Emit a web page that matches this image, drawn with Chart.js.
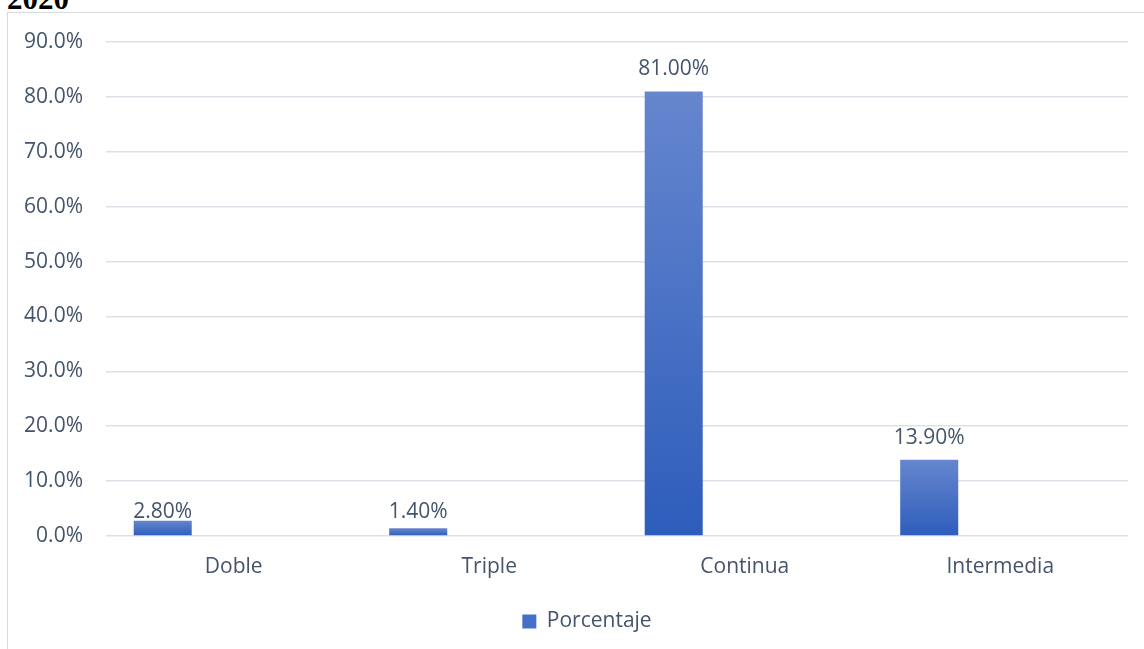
<!DOCTYPE html>
<html>
<head>
<meta charset="utf-8">
<script src="https://cdn.jsdelivr.net/npm/chart.js@4/dist/chart.umd.min.js"></script>
<style>
  html, body { margin: 0; padding: 0; background: #fff; overflow: hidden; }
  #wrap { position: relative; width: 1144px; height: 649px; overflow: hidden; }
  #frame { position: absolute; left: 7px; top: 12px; width: 1400px; height: 900px; border: 1px solid #d6dae1; }
  #year { position: absolute; left: 7px; top: -17px; font: bold 31px/1 "Liberation Serif", serif; color: #000; }
  #myChart { position: absolute; left: 0; top: 0; }
</style>
</head>
<body>
<div id="wrap">
  <div id="frame"></div>
  <div id="year">2020</div>
  <canvas id="myChart" width="1174" height="649"></canvas>
</div>
<script>
var categories = ['Doble', 'Triple', 'Continua', 'Intermedia'];
var porcentaje = [2.8, 1.4, 81.0, 13.9];
var valueLabels = ['2.80%', '1.40%', '81.00%', '13.90%'];
var empty = [null, null, null, null];

var textColor = '#44546a';
var gridColor = '#dde1e7';
var fontFamily = '"Open Sans", "Noto Sans", sans-serif';

// vertical gradient per bar, light on top and darker at the base
function barFill(ctx) {
  var chart = ctx.chart;
  if (!chart.chartArea || ctx.type !== 'data') return '#4a74c9';
  var y = chart.scales.y;
  var top = y.getPixelForValue(ctx.raw);
  var base = y.getPixelForValue(0);
  var g = chart.ctx.createLinearGradient(0, top, 0, base);
  g.addColorStop(0, '#6686ce');
  g.addColorStop(1, '#2d5dbb');
  return g;
}

// value labels above each bar; very short bars share one line near the axis
var barLabels = {
  id: 'barLabels',
  afterDatasetsDraw: function (chart) {
    var ctx = chart.ctx;
    var meta = chart.getDatasetMeta(0);
    var base = chart.scales.y.getPixelForValue(0);
    ctx.save();
    ctx.font = '21px ' + fontFamily;
    ctx.fillStyle = textColor;
    ctx.textAlign = 'center';
    ctx.textBaseline = 'alphabetic';
    meta.data.forEach(function (bar, i) {
      var y = (base - bar.y) < 30 ? base - 18 : bar.y - 16;
      ctx.fillText(valueLabels[i], bar.x, y);
    });
    ctx.restore();
  }
};

var config = {
  type: 'bar',
  data: {
    labels: categories,
    datasets: [
      { label: 'Porcentaje', data: porcentaje, backgroundColor: barFill },
      { label: '', data: empty },
      { label: '', data: empty }
    ]
  },
  options: {
    responsive: false,
    animation: false,
    categoryPercentage: 0.834,
    barPercentage: 0.817,
    layout: { padding: { top: 42, right: 0, bottom: 7, left: 0 } },
    plugins: {
      tooltip: { enabled: false },
      legend: {
        position: 'bottom',
        labels: {
          color: textColor,
          font: { family: fontFamily, size: 21 },
          boxWidth: 14,
          boxHeight: 14,
          padding: 10,
          generateLabels: function (chart) {
            return [{ text: 'Porcentaje', fillStyle: '#4470c8', strokeStyle: '#4470c8', lineWidth: 0, datasetIndex: 0, fontColor: textColor }];
          }
        }
      }
    },
    scales: {
      x: {
        grid: { display: false, drawTicks: false },
        border: { display: false },
        ticks: { color: textColor, font: { family: fontFamily, size: 21 }, padding: 18 },
        afterFit: function (scale) { scale.height = 65; }
      },
      y: {
        min: 0,
        max: 90,
        grid: { color: gridColor, lineWidth: 1.5, drawTicks: false },
        border: { display: false },
        ticks: {
          stepSize: 10,
          color: textColor,
          font: { family: fontFamily, size: 21 },
          padding: 23,
          callback: function (v) { return v.toFixed(1) + '%'; }
        },
        afterFit: function (scale) { scale.width = 106; }
      },
      // empty right-hand margin of the plot
      y2: {
        position: 'right',
        grid: { display: false, drawTicks: false },
        border: { display: false },
        ticks: { display: false },
        afterFit: function (scale) { scale.width = 46; }
      }
    }
  },
  plugins: [barLabels]
};

var myChart = new Chart(document.getElementById('myChart'), config);
</script>
</body>
</html>
